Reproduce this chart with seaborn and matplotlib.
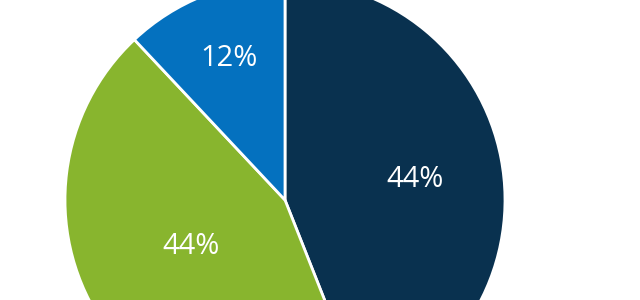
import numpy as np
import matplotlib
matplotlib.use("Agg")
import matplotlib.pyplot as plt
import seaborn as sns

# Данные
categories = ["Navy", "Green", "Blue"]
shares = [44, 44, 12]
colors = ["#09314f", "#88b52e", "#0471bf"]
# подгонка положения подписей (радиус, сдвиг угла в градусах)
label_r = [0.60, 0.47, 0.71]
label_shift = [0.0, 8.0, 0.5]

sns.set_theme(style="white")
plt.rcParams["font.family"] = ["Open Sans", "DejaVu Sans"]

fig = plt.figure(figsize=(6.4, 3.0), dpi=100)
ax = fig.add_axes([65 / 640, -120 / 300, 440 / 640, 440 / 300])

wedges, _ = ax.pie(shares, colors=colors, startangle=90, counterclock=False,
                   wedgeprops=dict(edgecolor="white", linewidth=2.0))

total = sum(shares)
start = 90.0
for s, r, d in zip(shares, label_r, label_shift):
    mid = start - s / total * 360 / 2 - d
    a = np.deg2rad(mid)
    ax.annotate(f"{s}%", (r * np.cos(a), r * np.sin(a)), xytext=(0, -3),
                textcoords="offset points", color="white", fontsize=21,
                ha="center", va="center")
    start -= s / total * 360

ax.set_xlim(-1, 1)
ax.set_ylim(-1, 1)
ax.axis("off")

fig.savefig("out.png", dpi=100)
